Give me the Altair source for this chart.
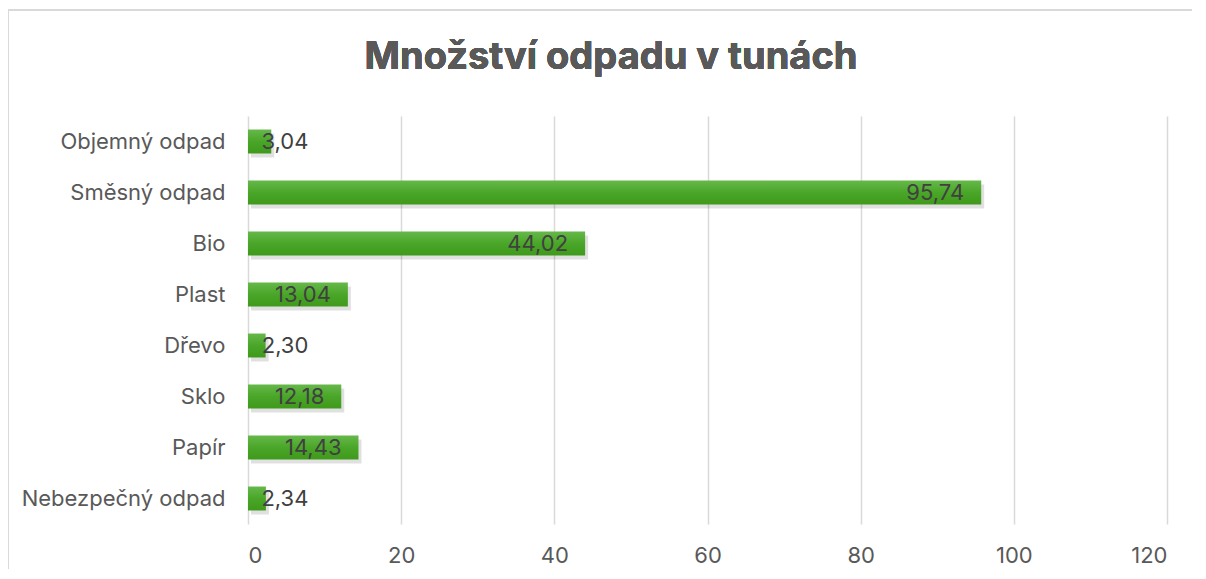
import altair as alt
import pandas as pd

categories = ["Objemný odpad", "Směsný odpad", "Bio", "Plast", "Dřevo", "Sklo", "Papír\u00a0", "Nebezpečný odpad"]
values = [3.04, 95.74, 44.02, 13.04, 2.30, 12.18, 14.43, 2.34]
x_ticks = [0, 20, 40, 60, 80, 100, 120]
title_text = "Množství odpadu v tunách"

FONT = "Inter"
FS = 22
W, H = 919, 408

df = pd.DataFrame({"kategorie": categories, "hodnota": values})

y_enc = alt.Y(
    "kategorie:N", sort=categories, title=None,
    scale=alt.Scale(paddingInner=0.53, paddingOuter=0.265),
    axis=alt.Axis(domain=False, ticks=False, labelFontSize=FS, labelColor="#595959",
                  labelPadding=23, labelFont=FONT, labelLimit=400),
)
x_enc = alt.X(
    "hodnota:Q", title=None,
    scale=alt.Scale(domain=[0, 120], nice=False),
    axis=alt.Axis(values=x_ticks, domain=False, ticks=False, grid=True, gridColor="#d9d9d9",
                  gridWidth=1.5, labelFontSize=FS, labelColor="#595959", labelPadding=21,
                  labelFont=FONT),
)

base = alt.Chart(df)

shadow = base.mark_bar(color="#000000", opacity=0.12, xOffset=3, yOffset=4).encode(x=x_enc, y=y_enc)

bars = base.mark_bar(
    color=alt.Gradient(
        gradient="linear", x1=0, x2=0, y1=0, y2=1,
        stops=[alt.GradientStop(color="#66b84a", offset=0),
               alt.GradientStop(color="#4aa628", offset=0.5),
               alt.GradientStop(color="#3f9a1c", offset=1)],
    )
).encode(x=x_enc, y=y_enc)

labels = base.transform_calculate(
    labx="max(datum.hodnota, 10.1)",
    lab="replace(format(datum.hodnota, '.2f'), '.', ',')",
).mark_text(align="right", baseline="middle", dx=-17, fontSize=FS, color="#404040", font=FONT).encode(
    x=alt.X("labx:Q"), y=y_enc, text="lab:N"
)

title_mark = base.mark_text(
    align="center", baseline="middle", fontSize=38, fontWeight="bold", color="#595959", font=FONT
).encode(x=alt.value(363), y=alt.value(-58), text=alt.value(title_text))

frame_top = base.mark_rule(color="#d9d9d9", strokeWidth=2).encode(
    x=alt.value(-240.5), x2=alt.value(960), y=alt.value(-106), y2=alt.value(-106)
)
frame_left = base.mark_rule(color="#d9d9d9", strokeWidth=2).encode(
    x=alt.value(-240.5), x2=alt.value(-240.5), y=alt.value(-106), y2=alt.value(470)
)

chart = alt.layer(frame_top, frame_left, shadow, bars, labels, title_mark).properties(
    width=W, height=H,
    background="white",
    autosize=alt.AutoSizeParams(type="none"),
    padding={"left": 240, "top": 108, "right": 25, "bottom": 45},
).configure_view(stroke=None)

chart.save("out.html", embed_options={"renderer": "svg", "actions": False})
